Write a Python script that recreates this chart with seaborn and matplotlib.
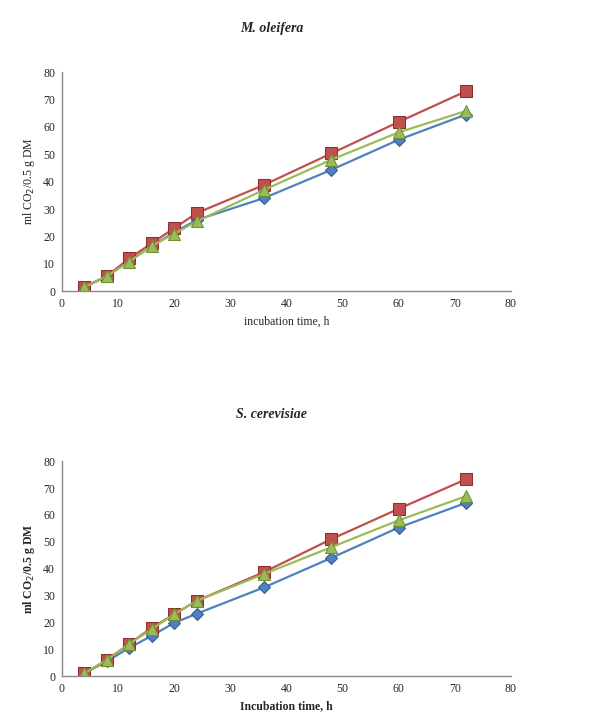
import numpy as np
import pandas as pd
import matplotlib
matplotlib.use("Agg")
import matplotlib.pyplot as plt
import seaborn as sns

# ----- DATA -----
hours = [4, 8, 12, 16, 20, 24, 36, 48, 60, 72]
series_names = ["A", "B", "C"]

oleifera_a = [1.5, 5.5, 11.0, 16.5, 21.5, 26.0, 34.0, 44.3, 55.3, 64.5]
oleifera_b = [1.5, 5.5, 12.0, 17.5, 23.0, 28.5, 38.8, 50.3, 61.8, 73.0]
oleifera_c = [1.5, 5.5, 10.8, 16.5, 21.0, 25.5, 37.0, 48.0, 58.0, 65.8]

cerevisiae_a = [1.0, 5.5, 10.5, 15.0, 19.8, 23.2, 33.0, 44.0, 55.3, 64.5]
cerevisiae_b = [1.0, 6.0, 12.0, 18.0, 23.0, 28.0, 38.7, 51.0, 62.3, 73.3]
cerevisiae_c = [1.0, 6.0, 12.0, 17.5, 23.0, 28.0, 38.0, 48.0, 58.0, 67.0]

panels = [
    ("M. oleifera", [oleifera_a, oleifera_b, oleifera_c], "incubation time, h", "normal"),
    ("S. cerevisiae", [cerevisiae_a, cerevisiae_b, cerevisiae_c], "Incubation time, h", "bold"),
]

palette = {"A": "#4F81BD", "B": "#C0504D", "C": "#9BBB59"}
markers = {"A": "D", "B": "s", "C": "^"}
edge = {"A": "#2F5C97", "B": "#8C2F2C", "C": "#6F8F32"}

# ----- PLOT -----
sns.set_style("white")
plt.rcParams["font.family"] = ["Liberation Serif", "DejaVu Serif"]

fig = plt.figure(figsize=(5.9, 7.28), dpi=100)
ax_pos = [[0.105, 0.600, 0.761, 0.301], [0.105, 0.0714, 0.761, 0.295]]
title_y = [0.961, 0.430]

for (title, vals, xlab, weight), pos, ty in zip(panels, ax_pos, title_y):
    ax = fig.add_axes(pos)
    df = pd.DataFrame({
        "time": np.tile(hours, len(series_names)),
        "co2": np.concatenate(vals),
        "series": np.repeat(series_names, len(hours)),
    })
    for name in series_names:
        sub = df[df["series"] == name]
        sns.lineplot(data=sub, x="time", y="co2", color=palette[name],
                     marker=markers[name], markersize=8 if name != "A" else 6,
                     markeredgecolor=edge[name], linewidth=1.6, ax=ax, legend=False)
    ax.set_xlim(0, 80)
    ax.set_ylim(0, 80)
    ax.set_xticks(range(0, 81, 10))
    ax.set_yticks(range(0, 81, 10))
    for s in ["top", "right"]:
        ax.spines[s].set_visible(False)
    for s in ["left", "bottom"]:
        ax.spines[s].set_color("#8a8a8a")
        ax.spines[s].set_linewidth(1.0)
    ax.tick_params(axis="both", direction="inout", length=4, width=0.8, color="#8a8a8a",
                   labelsize=8.5, pad=3)
    ax.set_xlabel(xlab, fontsize=8.5, fontweight=weight, labelpad=4)
    ax.set_ylabel("ml CO$_2$/0.5 g DM", fontsize=8.5, fontweight=weight, labelpad=4)
    fig.text(0.46, ty, title, ha="center", va="center", fontsize=10,
             fontstyle="italic", fontweight="bold")

fig.savefig("out.png", dpi=100, facecolor="white")
